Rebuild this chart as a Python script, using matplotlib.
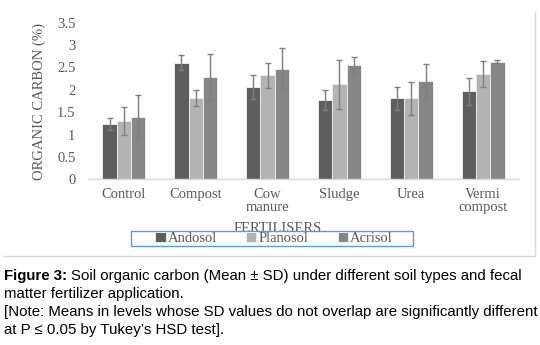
import numpy as np
import matplotlib.pyplot as plt
from matplotlib.patches import Rectangle
from matplotlib.lines import Line2D

# Soil organic carbon (%) per fertiliser, mean and SD for each soil type
fertilisers = ["Control", "Compost", "Cow\nmanure", "Sludge", "Urea", "Vermi\ncompost"]
soils = ["Andosol", "Planosol", "Acrisol"]

andosol_mean = [1.24, 2.61, 2.06, 1.78, 1.81, 1.97]
andosol_sd = [0.13, 0.17, 0.27, 0.22, 0.26, 0.30]
planosol_mean = [1.30, 1.81, 2.32, 2.12, 1.81, 2.35]
planosol_sd = [0.32, 0.18, 0.29, 0.55, 0.37, 0.29]
acrisol_mean = [1.39, 2.29, 2.47, 2.55, 2.19, 2.63]
acrisol_sd = [0.50, 0.51, 0.46, 0.19, 0.39, 0.04]

means = [andosol_mean, planosol_mean, acrisol_mean]
sds = [andosol_sd, planosol_sd, acrisol_sd]
colours = ["#5e5e5e", "#b3b3b3", "#868686"]

W, H = 540, 345
txt_grey = "#595959"
serif = "Liberation Serif"
fs = 10.5

fig = plt.figure(figsize=(W / 100, H / 100), dpi=100)
ax = fig.add_axes([88 / W, 1 - 179.3 / H, (519 - 88) / W, (179.3 - 22.7) / H])

x = np.arange(len(fertilisers))
bw = 0.2
for i, (m, s, c) in enumerate(zip(means, sds, colours)):
    pos = x + (i - 1) * bw
    ax.bar(pos, m, width=bw, color=c, edgecolor="#ededed", linewidth=0.7,
           label=soils[i], zorder=2)
    ax.errorbar(pos, m, yerr=s, fmt="none", ecolor="#7f7f7f", elinewidth=1.0,
                capsize=2.2, capthick=1.0, zorder=3)

ax.set_xlim(-0.5, len(fertilisers) - 0.5)
ax.set_ylim(0, 3.5)
ax.set_yticks(np.arange(0, 3.51, 0.5))
ax.set_yticklabels(["0", "0.5", "1", "1.5", "2", "2.5", "3", "3.5"])
ax.set_xticks(x)
ax.set_xticklabels(fertilisers, linespacing=1.0)
ax.tick_params(axis="both", length=0, labelsize=fs, labelcolor=txt_grey)
ax.tick_params(axis="x", pad=6)
ax.tick_params(axis="y", pad=9)
for lab in ax.get_xticklabels() + ax.get_yticklabels():
    lab.set_family(serif)

for side in ["top", "right", "left"]:
    ax.spines[side].set_visible(False)
ax.spines["bottom"].set_color("#d9d9d9")
ax.spines["bottom"].set_linewidth(1.0)

ax.set_ylabel("ORGANIC CARBON (%)", family=serif, fontsize=fs, color=txt_grey)
ax.yaxis.set_label_coords(-(88 - 46) / (519 - 88), 0.5)
fig.text(278 / W, 1 - 228.5 / H, "FERTILISERS", family=serif, fontsize=fs,
         color=txt_grey, ha="center", va="center", zorder=1)

# legend box sits over the axis title
fig.patches.append(Rectangle((131 / W, 1 - 246 / H), 282 / W, 15 / H,
                             transform=fig.transFigure, facecolor="white",
                             edgecolor="#5b9bd5", linewidth=1.0, zorder=5))
handles, labels = ax.get_legend_handles_labels()
leg = fig.legend(handles, labels, loc="center", bbox_to_anchor=(274 / W, 1 - 238.5 / H),
                 ncol=3, frameon=False, handlelength=0.7, handleheight=0.7,
                 handletextpad=0.15, columnspacing=2.0, borderpad=0,
                 prop={"family": serif, "size": fs})
leg.set_zorder(6)
for t in leg.get_texts():
    t.set_color(txt_grey)

# chart frame (right and bottom edges)
fig.add_artist(Line2D([535 / W, 535 / W], [1 - 12 / H, 1 - 255.5 / H],
                      color="#d9d9d9", linewidth=1.0))
fig.add_artist(Line2D([3 / W, 535 / W], [1 - 255.5 / H, 1 - 255.5 / H],
                      color="#d9d9d9", linewidth=1.0))

# caption
cap = "Liberation Sans"
cs = 10.8
bold = fig.text(4 / W, 1 - 280 / H, "Figure 3:", family=cap, fontsize=cs,
                weight="bold", va="baseline")
fig.canvas.draw()
bb = bold.get_window_extent()
fig.text((bb.x1 + 4) / W, 1 - 280 / H,
         "Soil organic carbon (Mean \u00b1 SD) under different soil types and fecal",
         family=cap, fontsize=cs, va="baseline")
fig.text(4 / W, 1 - 298 / H, "matter fertilizer application.", family=cap,
         fontsize=cs, va="baseline")
fig.text(4 / W, 1 - 316 / H,
         "[Note: Means in levels whose SD values do not overlap are significantly different",
         family=cap, fontsize=cs, va="baseline")
fig.text(4 / W, 1 - 334 / H, "at P \u2264 0.05 by Tukey\u2019s HSD test].", family=cap,
         fontsize=cs, va="baseline")

fig.savefig("out.png", dpi=100)
